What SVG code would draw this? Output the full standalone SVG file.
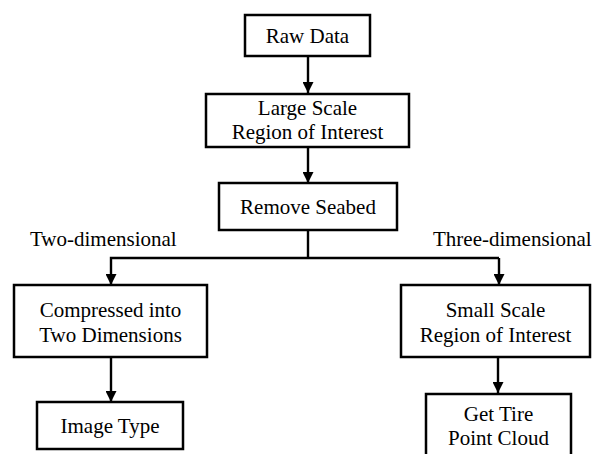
<svg xmlns="http://www.w3.org/2000/svg" width="593" height="454" viewBox="0 0 593 454">
<style>
.box{fill:#fff;stroke:#000;stroke-width:2.5}
.t{font-size:21px;fill:#000;text-anchor:middle}
.l{font-size:21px;fill:#000}
.c{fill:none;stroke:#000;stroke-width:2.4}
</style>
<defs>
<marker id="ah" markerWidth="11" markerHeight="11" refX="11" refY="5.5" orient="auto" markerUnits="userSpaceOnUse">
<path d="M0,0 L11,5.5 L0,11 Z" fill="#000"/>
</marker>
</defs>
<rect width="593" height="454" fill="#fff"/>
<g id="connectors">
<line class="c" x1="308" y1="56" x2="308" y2="93" marker-end="url(#ah)"/>
<line class="c" x1="308" y1="147" x2="308" y2="183" marker-end="url(#ah)"/>
<polyline class="c" points="308,230 308,258"/>
<polyline class="c" points="499,258 111,258 111,285" marker-end="url(#ah)"/>
<line class="c" x1="499" y1="258" x2="499" y2="285" marker-end="url(#ah)"/>
<line class="c" x1="111" y1="357" x2="111" y2="402" marker-end="url(#ah)"/>
<line class="c" x1="498" y1="357" x2="498" y2="393" marker-end="url(#ah)"/>
</g>
<g id="raw-data">
<rect class="box" x="245" y="15" width="125" height="41"/>
<text class="t" font-family="Times New Roman" x="307.5" y="43">Raw Data</text>
</g>
<g id="large-scale">
<rect class="box" x="206" y="94" width="203" height="53"/>
<text class="t" font-family="Times New Roman" x="307.5" y="115">Large Scale</text>
<text class="t" font-family="Times New Roman" x="307.5" y="139">Region of Interest</text>
</g>
<g id="remove-seabed">
<rect class="box" x="219" y="183" width="178" height="47"/>
<text class="t" font-family="Times New Roman" x="308" y="214">Remove Seabed</text>
</g>
<g id="label-2d">
<text class="l" font-family="Times New Roman" x="30" y="246">Two-dimensional</text>
</g>
<g id="label-3d">
<text class="l" font-family="Times New Roman" x="433" y="246">Three-dimensional</text>
</g>
<g id="compressed">
<rect class="box" x="14" y="285" width="193" height="72"/>
<text class="t" font-family="Times New Roman" x="110.5" y="317">Compressed into</text>
<text class="t" font-family="Times New Roman" x="110.5" y="342">Two Dimensions</text>
</g>
<g id="image-type">
<rect class="box" x="37" y="402" width="146" height="47"/>
<text class="t" font-family="Times New Roman" x="110" y="433">Image Type</text>
</g>
<g id="small-scale">
<rect class="box" x="401" y="285" width="189" height="72"/>
<text class="t" font-family="Times New Roman" x="495.5" y="317">Small Scale</text>
<text class="t" font-family="Times New Roman" x="495.5" y="342">Region of Interest</text>
</g>
<g id="get-tire">
<rect class="box" x="426" y="394" width="145" height="70"/>
<text class="t" font-family="Times New Roman" x="498.5" y="421">Get Tire</text>
<text class="t" font-family="Times New Roman" x="498.5" y="445">Point Cloud</text>
</g>
</svg>
